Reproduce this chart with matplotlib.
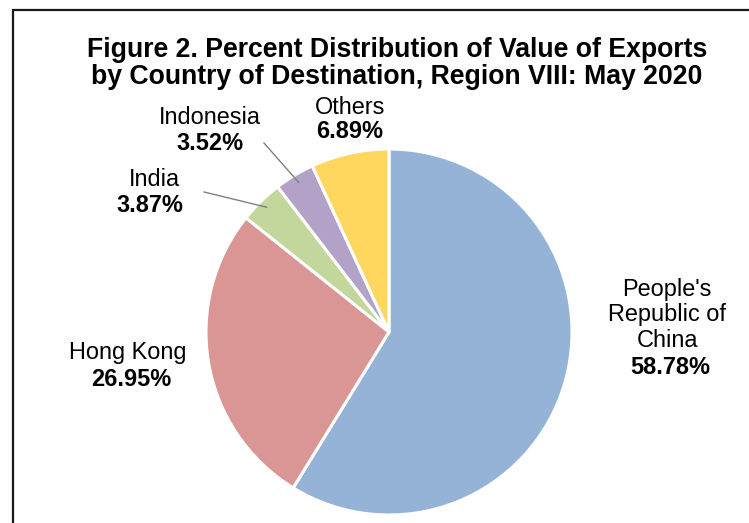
import matplotlib.pyplot as plt
from matplotlib.patches import Rectangle
import numpy as np

plt.rcParams['font.family'] = ['Liberation Sans', 'DejaVu Sans']

countries = ["People's\nRepublic of\nChina", 'Hong Kong', 'India', 'Indonesia', 'Others']
shares = [58.78, 26.95, 3.87, 3.52, 6.89]
colors = ['#95B3D7', '#D99694', '#C3D69B', '#B3A2C7', '#FFD75E']

W, H = 749, 523
fig = plt.figure(figsize=(W / 100, H / 100), dpi=100)

def fx(px):
    return px / W

def fy(py):
    return 1 - py / H

# pie placed by its pixel centre and radius
cx, cy, r = 389, 332, 183
ax = fig.add_axes([fx(cx - r), fy(cy + r), 2 * r / W, 2 * r / H])
wedges, _ = ax.pie(shares, colors=colors, startangle=90, counterclock=False,
                   wedgeprops=dict(edgecolor='white', linewidth=2.2))
ax.set_xlim(-1, 1)
ax.set_ylim(-1, 1)
ax.set_aspect('equal')
ax.axis('off')

# frame round the chart
fig.add_artist(Rectangle((fx(13), -0.1), 1.0, fy(10) + 0.1, transform=fig.transFigure,
                         fill=False, edgecolor='#1a1a1a', linewidth=1.6))

fig.text(fx(397), fy(50), 'Figure 2. Percent Distribution of Value of Exports',
         ha='center', va='center', fontsize=19.2, fontweight='bold')
fig.text(fx(397), fy(77), 'by Country of Destination, Region VIII: May 2020',
         ha='center', va='center', fontsize=19.2, fontweight='bold')

# label positions (pixels): name centre, percent centre
label_pos = {
    "People's\nRepublic of\nChina": ((667, 315), (670, 368)),
    'Hong Kong': ((128, 353), (131, 380)),
    'India': ((154, 180), (150, 205)),
    'Indonesia': ((210, 118), (210, 143)),
    'Others': ((350, 107), (350, 132)),
}
fs = 16.9
for name, val in zip(countries, shares):
    (nx, ny), (px, py) = label_pos[name]
    fig.text(fx(nx), fy(ny), name, ha='center', va='center', fontsize=fs,
             linespacing=1.12)
    fig.text(fx(px), fy(py), f'{val:.2f}%', ha='center', va='center',
             fontsize=fs, fontweight='bold')

# leader lines for the small slices
leader_start = {'India': (204, 192), 'Indonesia': (264, 143)}
for w, name in zip(wedges, countries):
    if name in leader_start:
        mid = np.deg2rad((w.theta1 + w.theta2) / 2)
        ex, ey = cx + 0.955 * r * np.cos(mid), cy - 0.955 * r * np.sin(mid)
        sx, sy = leader_start[name]
        fig.add_artist(plt.Line2D([fx(sx), fx(ex)], [fy(sy), fy(ey)],
                                  transform=fig.transFigure, color='#808080',
                                  linewidth=1))

fig.savefig('out.png', dpi=100)
